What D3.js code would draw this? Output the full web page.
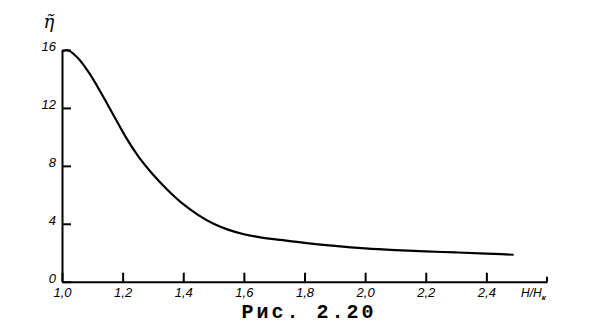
<!DOCTYPE html>
<html>
<head>
<meta charset="utf-8">
<script src="https://cdn.jsdelivr.net/npm/d3@7"></script>
<style>
  body { margin: 0; background: white; }
  svg { display: block; }
</style>
</head>
<body>
<svg></svg>
<script>
// values
let ratioH = [1.0, 1.015, 1.05, 1.09, 1.13, 1.17, 1.21, 1.25, 1.30, 1.35, 1.40, 1.45, 1.50, 1.55, 1.60, 1.65, 1.72, 1.80, 1.90, 2.0, 2.1, 2.2, 2.3, 2.4, 2.49];
let etaVals = [15.9, 16.0, 15.5, 14.4, 13.0, 11.5, 10.0, 8.7, 7.4, 6.3, 5.35, 4.6, 4.0, 3.58, 3.28, 3.08, 2.89, 2.68, 2.47, 2.30, 2.18, 2.09, 2.02, 1.94, 1.86];

let xTicks = [1.0, 1.2, 1.4, 1.6, 1.8, 2.0, 2.2, 2.4];
let yTicks = [0, 4, 8, 12, 16];
let xMax = 2.6;

let width = 597;
let height = 332;

let svg = d3.select("svg")
            .attr("width", width)
            .attr("height", height)
            .style("background-color", "white");

let scaleX = d3.scaleLinear()
               .domain([1.0, xMax])
               .range([62, 547]);

let scaleY = d3.scaleLinear()
               .domain([0, 16])
               .range([281.7, 50]);

let comma = d => d3.format(".1f")(d).replace(".", ",");

// x axis
let xAxis = d3.axisBottom(scaleX)
              .tickValues(xTicks)
              .tickSize(-9)
              .tickSizeOuter(0)
              .tickPadding(6)
              .tickFormat(comma);

let gx = svg.append("g")
   .attr("transform", `translate(0, ${scaleY(0)})`)
   .call(xAxis);

// y axis
let yAxis = d3.axisLeft(scaleY)
              .tickValues(yTicks)
              .tickSize(-9)
              .tickSizeOuter(0)
              .tickPadding(6);

let gy = svg.append("g")
   .attr("transform", `translate(${scaleX(1.0)}, 0)`)
   .call(yAxis);

[gx, gy].forEach(g => {
    g.select(".domain").attr("stroke", "black").attr("stroke-width", 2);
    g.selectAll(".tick line").attr("stroke", "black").attr("stroke-width", 2);
    g.selectAll(".tick text")
     .attr("fill", "black")
     .style("font-family", "'Liberation Sans', sans-serif")
     .style("font-style", "italic")
     .style("font-size", "13px");
});
gy.selectAll(".tick text").attr("dy", "0.05em");

// small end mark at 2.6
svg.append("line")
   .attr("x1", scaleX(xMax)).attr("x2", scaleX(xMax))
   .attr("y1", scaleY(0)).attr("y2", scaleY(0) - 5)
   .attr("stroke", "black")
   .attr("stroke-width", 2);

// curve
let line = d3.line()
             .x((d, i) => scaleX(ratioH[i]))
             .y(d => scaleY(d))
             .curve(d3.curveMonotoneX);

svg.append("path")
   .datum(etaVals)
   .attr("d", line)
   .attr("fill", "none")
   .attr("stroke", "black")
   .attr("stroke-width", 2.2);

// axis titles
svg.append("text")
   .attr("x", 49).attr("y", 28)
   .attr("text-anchor", "middle")
   .style("font-family", "'DejaVu Serif', serif")
   .style("font-style", "italic")
   .style("font-size", "18px")
   .text("η\u0303");

let hLabel = svg.append("text")
   .attr("x", 521).attr("y", 297)
   .style("font-family", "'Liberation Sans', sans-serif")
   .style("font-style", "italic")
   .style("font-size", "12px");
hLabel.append("tspan").text("H/H");
hLabel.append("tspan").attr("dy", 3).style("font-size", "8px").style("font-weight", "bold").text("к");

// caption
svg.append("text")
   .attr("x", 309).attr("y", 318)
   .attr("text-anchor", "middle")
   .style("font-family", "'Liberation Mono', monospace")
   .style("font-weight", "bold")
   .style("font-size", "20px")
   .style("letter-spacing", "3px")
   .text("Рис. 2.20");
</script>
</body>
</html>
